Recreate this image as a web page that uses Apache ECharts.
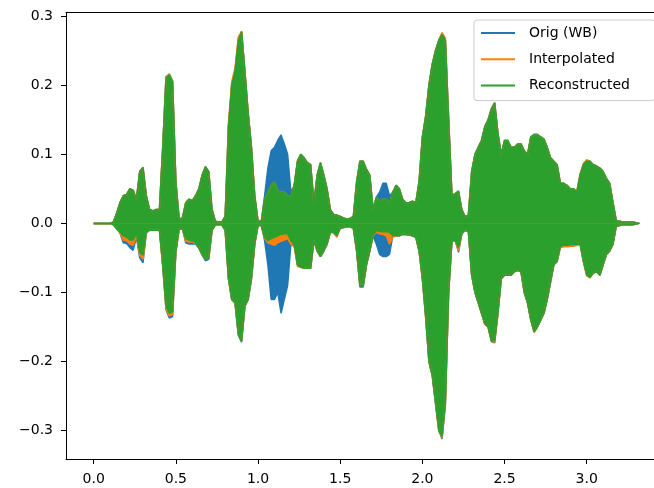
<!DOCTYPE html>
<html>
<head>
<meta charset="utf-8">
<script src="https://cdn.jsdelivr.net/npm/echarts@6/dist/echarts.min.js"></script>
<style>html,body{margin:0;padding:0;background:#fff}#c{width:654px;height:488px}</style>
</head>
<body>
<div id="c"></div>
<script>
// Sample grid: envelope read every 0.02 s starting at t = 0
const T0 = 0, DT = 0.02;
const SERIES_NAMES = ['Orig (WB)', 'Interpolated', 'Reconstructed'];
const X_TICKS = [0, 0.5, 1, 1.5, 2, 2.5, 3];
const Y_TICKS = [-0.3, -0.2, -0.1, 0, 0.1, 0.2, 0.3];

// Reconstructed (green) envelope
const recUpper = [
  0, 0, 0, 0, 0, 0, 0.002, 0.015, 0.03, 0.04,
  0.042, 0.05, 0.048, 0.035, 0.075, 0.081, 0.04, 0.02, 0.018, 0.02,
  0.02, 0.11, 0.21, 0.215, 0.205, 0.06, 0.006, 0.008, 0.03, 0.035,
  0.033, 0.04, 0.05, 0.07, 0.082, 0.075, 0.02, 0.003, 0.002, 0.002,
  0.01, 0.14, 0.2, 0.22, 0.265, 0.277, 0.22, 0.16, 0.11, 0.04,
  0.003, 0.003, 0.035, 0.045, 0.055, 0.06, 0.048, 0.045, 0.045, 0.04,
  0.04, 0.055, 0.09, 0.1, 0.095, 0.088, 0.085, 0.03, 0.07, 0.088,
  0.07, 0.05, 0.02, 0.013, 0.012, 0.01, 0.008, 0.006, 0.007, 0.01,
  0.06, 0.09, 0.09, 0.078, 0.07, 0.02, 0.038, 0.032, 0.035, 0.035,
  0.03, 0.045, 0.055, 0.05, 0.035, 0.03, 0.03, 0.032, 0.03, 0.06,
  0.125, 0.155, 0.2, 0.23, 0.25, 0.265, 0.273, 0.265, 0.15, 0.04,
  0.043, 0.046, 0.02, 0.01, 0.012, 0.075, 0.1, 0.11, 0.12, 0.14,
  0.15, 0.165, 0.174, 0.13, 0.1, 0.12, 0.12, 0.11, 0.11, 0.115,
  0.115, 0.105, 0.1, 0.125, 0.128, 0.128, 0.125, 0.122, 0.11, 0.095,
  0.09, 0.085, 0.058, 0.058, 0.055, 0.05, 0.05, 0.045, 0.07, 0.085,
  0.09, 0.09, 0.085, 0.083, 0.08, 0.075, 0.065, 0.058, 0.03, 0.004,
  0.003, 0.002, 0.002, 0.002, 0.002, 0.001, 0
];
const recLower = [
  0, 0, 0, 0, 0, 0, -0.002, -0.008, -0.012, -0.018,
  -0.02, -0.024, -0.024, -0.015, -0.042, -0.046, -0.012, -0.01, -0.01, -0.01,
  -0.01, -0.06, -0.12, -0.13, -0.128, -0.04, -0.008, -0.008, -0.022, -0.024,
  -0.025, -0.028, -0.035, -0.045, -0.052, -0.05, -0.01, -0.002, -0.002, -0.002,
  -0.01, -0.08, -0.11, -0.115, -0.16, -0.17, -0.12, -0.11, -0.08, -0.03,
  -0.003, -0.003, -0.02, -0.025, -0.022, -0.02, -0.018, -0.016, -0.015, -0.015,
  -0.025, -0.03, -0.06, -0.063, -0.065, -0.065, -0.065, -0.025, -0.04, -0.048,
  -0.04, -0.03, -0.013, -0.013, -0.018, -0.007, -0.006, -0.005, -0.005, -0.007,
  -0.04, -0.09, -0.09, -0.06, -0.04, -0.018, -0.01, -0.012, -0.012, -0.012,
  -0.013, -0.017, -0.018, -0.018, -0.016, -0.016, -0.017, -0.018, -0.02, -0.04,
  -0.08, -0.135, -0.2, -0.22, -0.26, -0.3, -0.308, -0.26, -0.1, -0.025,
  -0.025, -0.035, -0.015, -0.01, -0.012, -0.075, -0.1, -0.115, -0.13, -0.145,
  -0.15, -0.17, -0.17, -0.13, -0.08, -0.075, -0.075, -0.075, -0.07, -0.068,
  -0.07, -0.1, -0.115, -0.14, -0.157, -0.15, -0.14, -0.13, -0.11, -0.085,
  -0.06, -0.055, -0.033, -0.031, -0.031, -0.03, -0.03, -0.03, -0.03, -0.055,
  -0.075, -0.078, -0.072, -0.07, -0.075, -0.06, -0.045, -0.04, -0.03, -0.004,
  -0.003, -0.002, -0.002, -0.002, -0.002, -0.001, 0
];

// Orig (WB) (blue) envelope
const origUpper = [
  0, 0, 0, 0, 0, 0, 0.002, 0.015, 0.03, 0.04,
  0.042, 0.05, 0.048, 0.035, 0.075, 0.081, 0.04, 0.02, 0.018, 0.02,
  0.02, 0.11, 0.212, 0.216, 0.206, 0.06, 0.006, 0.008, 0.03, 0.035,
  0.033, 0.04, 0.05, 0.07, 0.082, 0.075, 0.02, 0.003, 0.002, 0.002,
  0.01, 0.14, 0.2, 0.22, 0.266, 0.278, 0.22, 0.16, 0.11, 0.04,
  0.003, 0.003, 0.04, 0.08, 0.105, 0.11, 0.12, 0.128, 0.115, 0.1,
  0.045, 0.055, 0.09, 0.1, 0.095, 0.088, 0.085, 0.03, 0.07, 0.088,
  0.07, 0.05, 0.02, 0.013, 0.012, 0.01, 0.008, 0.006, 0.007, 0.01,
  0.06, 0.09, 0.09, 0.078, 0.07, 0.02, 0.038, 0.045, 0.058, 0.058,
  0.04, 0.045, 0.055, 0.05, 0.035, 0.03, 0.03, 0.032, 0.03, 0.06,
  0.125, 0.155, 0.2, 0.23, 0.25, 0.265, 0.275, 0.266, 0.15, 0.04,
  0.043, 0.047, 0.02, 0.01, 0.012, 0.075, 0.1, 0.11, 0.12, 0.14,
  0.15, 0.166, 0.175, 0.13, 0.1, 0.12, 0.12, 0.11, 0.11, 0.115,
  0.115, 0.105, 0.1, 0.125, 0.129, 0.129, 0.125, 0.122, 0.11, 0.095,
  0.09, 0.085, 0.058, 0.058, 0.055, 0.05, 0.05, 0.045, 0.07, 0.085,
  0.09, 0.09, 0.085, 0.083, 0.08, 0.075, 0.065, 0.058, 0.03, 0.004,
  0.003, 0.002, 0.002, 0.002, 0.002, 0.001, 0
];
const origLower = [
  0, 0, 0, 0, 0, 0, -0.002, -0.008, -0.014, -0.028,
  -0.029, -0.035, -0.039, -0.02, -0.05, -0.057, -0.014, -0.01, -0.01, -0.01,
  -0.01, -0.062, -0.125, -0.137, -0.135, -0.042, -0.008, -0.008, -0.028, -0.03,
  -0.03, -0.03, -0.036, -0.046, -0.054, -0.052, -0.01, -0.002, -0.002, -0.002,
  -0.01, -0.08, -0.11, -0.115, -0.162, -0.172, -0.12, -0.11, -0.08, -0.03,
  -0.003, -0.003, -0.025, -0.06, -0.11, -0.11, -0.1, -0.13, -0.11, -0.09,
  -0.03, -0.032, -0.06, -0.063, -0.065, -0.065, -0.065, -0.025, -0.04, -0.048,
  -0.04, -0.03, -0.013, -0.013, -0.018, -0.007, -0.006, -0.005, -0.005, -0.007,
  -0.04, -0.092, -0.092, -0.06, -0.04, -0.018, -0.03, -0.045, -0.048, -0.048,
  -0.045, -0.018, -0.018, -0.018, -0.016, -0.016, -0.017, -0.018, -0.02, -0.04,
  -0.08, -0.135, -0.2, -0.22, -0.26, -0.3, -0.312, -0.262, -0.1, -0.025,
  -0.025, -0.042, -0.015, -0.01, -0.012, -0.075, -0.1, -0.115, -0.13, -0.146,
  -0.15, -0.171, -0.173, -0.13, -0.08, -0.075, -0.075, -0.075, -0.07, -0.068,
  -0.07, -0.1, -0.115, -0.14, -0.157, -0.15, -0.14, -0.13, -0.11, -0.085,
  -0.06, -0.055, -0.034, -0.033, -0.032, -0.031, -0.031, -0.03, -0.03, -0.055,
  -0.075, -0.078, -0.072, -0.07, -0.075, -0.06, -0.045, -0.04, -0.03, -0.004,
  -0.003, -0.002, -0.002, -0.002, -0.002, -0.001, 0
];

// Interpolated (orange) envelope
const interpUpper = [
  0, 0, 0, 0, 0, 0, 0.002, 0.015, 0.03, 0.04,
  0.042, 0.05, 0.048, 0.035, 0.075, 0.081, 0.04, 0.02, 0.018, 0.02,
  0.02, 0.11, 0.211, 0.216, 0.206, 0.06, 0.006, 0.008, 0.03, 0.035,
  0.033, 0.04, 0.05, 0.07, 0.082, 0.075, 0.02, 0.003, 0.002, 0.002,
  0.01, 0.145, 0.205, 0.225, 0.27, 0.278, 0.22, 0.16, 0.11, 0.04,
  0.003, 0.003, 0.035, 0.045, 0.055, 0.06, 0.048, 0.045, 0.045, 0.04,
  0.04, 0.055, 0.09, 0.1, 0.095, 0.088, 0.085, 0.03, 0.07, 0.088,
  0.07, 0.05, 0.02, 0.013, 0.012, 0.01, 0.008, 0.006, 0.007, 0.01,
  0.06, 0.09, 0.09, 0.078, 0.07, 0.02, 0.038, 0.032, 0.035, 0.035,
  0.03, 0.045, 0.055, 0.05, 0.035, 0.03, 0.03, 0.032, 0.03, 0.06,
  0.125, 0.155, 0.2, 0.23, 0.25, 0.265, 0.276, 0.268, 0.15, 0.04,
  0.043, 0.046, 0.02, 0.01, 0.012, 0.075, 0.1, 0.11, 0.12, 0.14,
  0.15, 0.166, 0.175, 0.13, 0.1, 0.12, 0.12, 0.11, 0.11, 0.115,
  0.115, 0.105, 0.1, 0.125, 0.128, 0.128, 0.125, 0.122, 0.11, 0.095,
  0.09, 0.085, 0.058, 0.058, 0.055, 0.05, 0.05, 0.047, 0.072, 0.087,
  0.092, 0.09, 0.085, 0.083, 0.08, 0.075, 0.065, 0.058, 0.03, 0.004,
  0.003, 0.002, 0.002, 0.002, 0.002, 0.001, 0
];
const interpLower = [
  0, 0, 0, 0, 0, 0, -0.002, -0.008, -0.013, -0.024,
  -0.025, -0.03, -0.032, -0.018, -0.046, -0.052, -0.013, -0.01, -0.01, -0.01,
  -0.01, -0.061, -0.123, -0.134, -0.132, -0.041, -0.008, -0.008, -0.026, -0.027,
  -0.027, -0.029, -0.035, -0.045, -0.052, -0.05, -0.01, -0.002, -0.002, -0.002,
  -0.01, -0.08, -0.11, -0.115, -0.16, -0.17, -0.12, -0.11, -0.08, -0.03,
  -0.003, -0.003, -0.022, -0.028, -0.03, -0.032, -0.028, -0.026, -0.024, -0.022,
  -0.03, -0.034, -0.062, -0.064, -0.065, -0.065, -0.065, -0.025, -0.04, -0.048,
  -0.04, -0.03, -0.013, -0.014, -0.02, -0.007, -0.006, -0.005, -0.005, -0.007,
  -0.04, -0.09, -0.09, -0.06, -0.04, -0.018, -0.013, -0.015, -0.016, -0.018,
  -0.03, -0.02, -0.018, -0.018, -0.016, -0.016, -0.017, -0.018, -0.02, -0.04,
  -0.08, -0.135, -0.2, -0.22, -0.26, -0.3, -0.31, -0.261, -0.1, -0.025,
  -0.025, -0.04, -0.015, -0.01, -0.012, -0.075, -0.1, -0.115, -0.13, -0.146,
  -0.15, -0.17, -0.172, -0.13, -0.08, -0.075, -0.075, -0.075, -0.07, -0.068,
  -0.07, -0.1, -0.115, -0.14, -0.158, -0.15, -0.14, -0.13, -0.11, -0.085,
  -0.06, -0.055, -0.035, -0.034, -0.034, -0.033, -0.033, -0.032, -0.031, -0.055,
  -0.076, -0.079, -0.072, -0.07, -0.075, -0.06, -0.045, -0.04, -0.03, -0.004,
  -0.003, -0.002, -0.002, -0.002, -0.002, -0.001, 0
];

const COLORS = ['#1f77b4', '#ff7f0e', '#2ca02c'];
const ENVELOPES = [[origUpper, origLower], [interpUpper, interpLower], [recUpper, recLower]];

function pairs(vals) {
  return vals.map((v, i) => [T0 + i * DT, v]);
}

const series = [];
ENVELOPES.forEach((env, k) => {
  env.forEach(vals => {
    series.push({
      type: 'line',
      name: SERIES_NAMES[k],
      data: pairs(vals),
      showSymbol: false,
      symbol: 'none',
      silent: true,
      animation: false,
      color: COLORS[k],
      lineStyle: { color: COLORS[k], width: 1.5 },
      areaStyle: { color: COLORS[k], opacity: 1, origin: 'auto' },
      z: 2
    });
  });
});

const FONT = 'DejaVu Sans';
const fmt = v => v.toFixed(1).replace('-', '\u2212');
const SPINE = { show: true, onZero: false, lineStyle: { color: '#000', width: 1 } };

const chart = echarts.init(document.getElementById('c'), null, { renderer: 'canvas' });
chart.setOption({
  animation: false,
  backgroundColor: '#fff',
  grid: {
    left: 66, top: 12.7, width: 588, height: 446.3,
    show: false, containLabel: false
  },
  legend: {
    data: SERIES_NAMES.map(n => ({ name: n, icon: 'rect' })),
    orient: 'vertical',
    left: 474, top: 20,
    itemWidth: 34, itemHeight: 2,
    itemGap: 10.3,
    padding: [5, 25, 7, 7],
    backgroundColor: 'rgba(255,255,255,0.8)',
    borderColor: '#cccccc', borderWidth: 1, borderRadius: 3,
    textStyle: { fontFamily: FONT, fontSize: 14, color: '#000', lineHeight: 16, padding: [0, 0, 0, 9] },
    selectedMode: false
  },
  xAxis: [{
    type: 'value',
    position: 'bottom',
    min: -0.1686, max: 3.4096,
    axisLine: SPINE,
    splitLine: { show: false },
    axisTick: { show: true, length: 5, lineStyle: { color: '#000', width: 1 }, customValues: X_TICKS },
    axisLabel: { customValues: X_TICKS, formatter: fmt, fontFamily: FONT, fontSize: 14, color: '#000', margin: 13 }
  }, {
    type: 'value',
    position: 'top',
    min: -0.1686, max: 3.4096,
    axisLine: SPINE,
    splitLine: { show: false },
    axisTick: { show: false },
    axisLabel: { show: false }
  }],
  yAxis: {
    type: 'value',
    min: -0.341, max: 0.3049,
    axisLine: SPINE,
    splitLine: { show: false },
    axisTick: { show: true, length: 5, lineStyle: { color: '#000', width: 1 }, customValues: Y_TICKS },
    axisLabel: { customValues: Y_TICKS, formatter: fmt, fontFamily: FONT, fontSize: 14, color: '#000', margin: 13 }
  },
  series: series
});
</script>
</body>
</html>
